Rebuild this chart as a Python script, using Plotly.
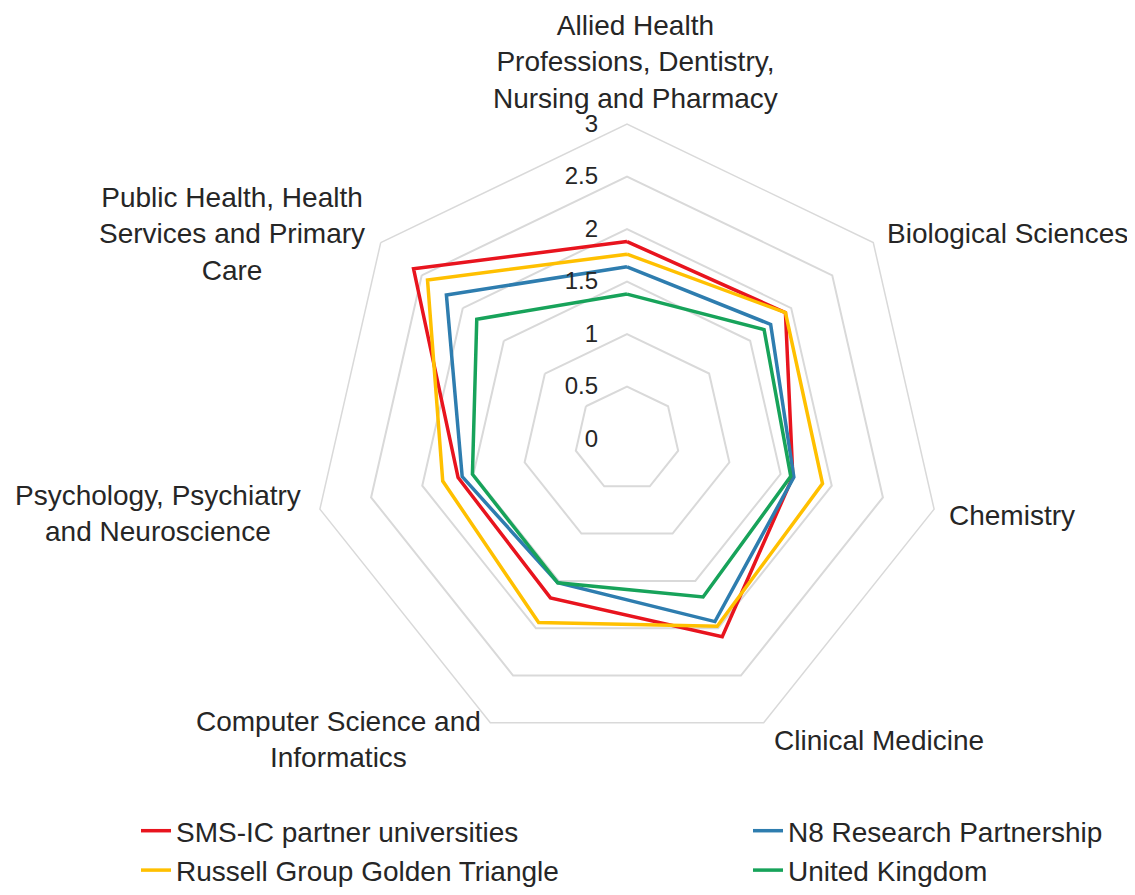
import plotly.graph_objects as go

categories = [
    "Allied Health<br>Professions, Dentistry,<br>Nursing and Pharmacy",
    "Biological Sciences",
    "Chemistry",
    "Clinical Medicine",
    "Computer Science and<br>Informatics",
    "Psychology, Psychiatry<br>and Neuroscience",
    "Public Health, Health<br>Services and Primary<br>Care",
]
cat_keys = ["Allied", "Bio", "Chem", "Clin", "CompSci", "Psych", "PubHealth"]

sms_ic = [1.88, 1.93, 1.62, 2.09, 1.68, 1.65, 2.60]
russell = [1.76, 1.93, 1.91, 1.98, 1.94, 1.80, 2.43]
n8 = [1.64, 1.75, 1.63, 1.93, 1.52, 1.61, 2.20]
uk = [1.38, 1.67, 1.60, 1.67, 1.52, 1.51, 1.83]

radial_ticks = [0, 0.5, 1, 1.5, 2, 2.5, 3]

series = [
    ("SMS-IC partner universities", sms_ic, "#E8141E", "legend"),
    ("Russell Group Golden Triangle", russell, "#FFC000", "legend"),
    ("N8 Research Partnership", n8, "#2E7DAF", "legend2"),
    ("United Kingdom", uk, "#17A35A", "legend2"),
]

W, H = 1135, 895
FONT = "Liberation Sans, Arial, sans-serif"
TXT = "#262626"

fig = go.Figure()
for i, (name, vals, color, leg) in enumerate(series):
    fig.add_trace(go.Scatterpolar(
        r=vals + [vals[0]],
        theta=cat_keys + [cat_keys[0]],
        mode="lines",
        name=name,
        line=dict(color=color, width=3.5),
        legend=leg,
        legendgroup=f"g{i}",
    ))

cx, cy, R = 619, 431, 315
leg_common = dict(
    orientation="v", yanchor="top", xanchor="left",
    font=dict(size=28, color=TXT, family=FONT),
    traceorder="normal", bgcolor="rgba(0,0,0,0)", tracegroupgap=4,
)
fig.update_layout(
    width=W, height=H,
    margin=dict(l=0, r=0, t=0, b=0, autoexpand=False),
    paper_bgcolor="white",
    font=dict(family=FONT, color=TXT, size=28),
    polar=dict(
        domain=dict(x=[(cx - R) / W, (cx + R) / W], y=[1 - (cy + R) / H, 1 - (cy - R) / H]),
        bgcolor="white",
        gridshape="linear",
        radialaxis=dict(
            range=[0, 3], tickvals=radial_ticks, ticktext=[str(t) for t in radial_ticks],
            angle=90, tickangle=90, side="counterclockwise", showline=False,
            ticks="outside", ticklen=20, tickcolor="rgba(0,0,0,0)",
            gridcolor="#D9D9D9", gridwidth=1.5,
            tickfont=dict(size=24, color=TXT, family=FONT),
        ),
        angularaxis=dict(
            direction="clockwise", rotation=90,
            showticklabels=False, ticks="", showgrid=False,
            showline=True, linecolor="#D9D9D9", linewidth=1.5,
        ),
    ),
    showlegend=True,
    legend=dict(x=128 / W, y=1 - 798 / H, **leg_common),
    legend2=dict(x=740 / W, y=1 - 798 / H, **leg_common),
)

label_pos = [
    (627, 108, "center", "bottom"),
    (877, 225, "left", "middle"),
    (939, 507, "left", "middle"),
    (764, 732, "left", "middle"),
    (330, 731, "center", "middle"),
    (150, 505, "center", "middle"),
    (224, 226, "center", "middle"),
]
for text, (px, py, xa, ya) in zip(categories, label_pos):
    fig.add_annotation(
        x=px / W, y=1 - py / H, xref="paper", yref="paper",
        text=text, showarrow=False, xanchor=xa, yanchor=ya, align="center",
        font=dict(size=28, color=TXT, family=FONT),
    )

fig.write_html("out.html")
